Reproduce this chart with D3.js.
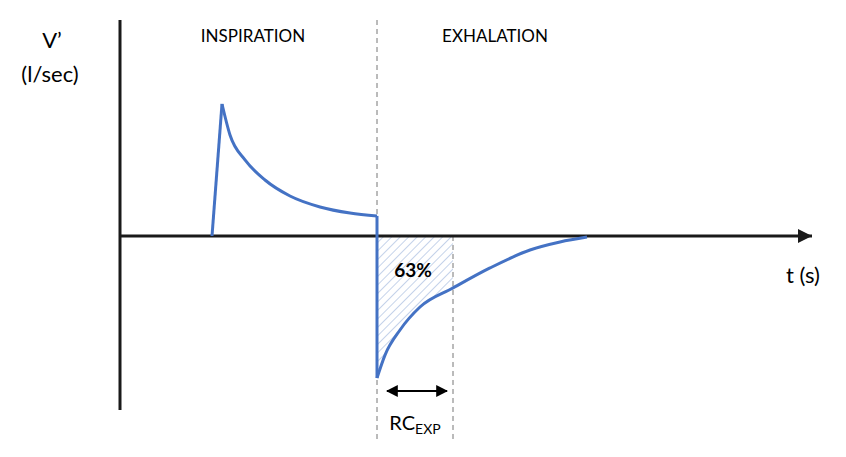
<!DOCTYPE html>
<html><head><meta charset="utf-8">
<script src="https://cdn.jsdelivr.net/npm/d3@7"></script>
<style>body{margin:0;background:#fff}text{font-family:Lato,"Open Sans",sans-serif;fill:#000}</style>
</head><body><div id="chart"></div>
<script>
// flow curve (t in s, flow in l/sec, relative units)
var inspiration = [
  { t: 1.84, v: 0 }, { t: 2.04, v: 1.0 }, { t: 2.2, v: 0.765 }, { t: 2.5, v: 0.576 },
  { t: 2.9, v: 0.424 }, { t: 3.4, v: 0.303 }, { t: 4.0, v: 0.22 }, { t: 4.6, v: 0.174 },
  { t: 5.14, v: 0.152 }
]
var exhalation = [
  { t: 5.14, v: -1.076 }, { t: 5.3, v: -0.902 }, { t: 5.6, v: -0.712 }, { t: 6.0, v: -0.538 },
  { t: 6.66, v: -0.394 }, { t: 7.4, v: -0.242 }, { t: 8.2, v: -0.106 }, { t: 8.8, v: -0.045 },
  { t: 9.34, v: -0.008 }
]
var tSwitch = 5.14, tRC = 6.66
var phaseLabels = ["INSPIRATION", "EXHALATION"]

const width = 846, height = 457
const x = d3.scaleLinear().domain([0, 13.8]).range([120, 810])
const y = d3.scaleLinear().domain([-1.318, 1.636]).range([410, 20])
const y0 = y(0)
const blue = "#4472c4"

var svg = d3.select("#chart").append("svg").attr("width", width).attr("height", height)
var defs = svg.append("defs")
var pat = defs.append("pattern").attr("id", "hatch").attr("patternUnits", "userSpaceOnUse")
  .attr("width", 6).attr("height", 6).attr("patternTransform", "rotate(45)")
pat.append("line").attr("x1", 0).attr("y1", 0).attr("x2", 0).attr("y2", 6)
  .attr("stroke", "#c5d3ea").attr("stroke-width", 2)
defs.append("marker").attr("id", "ah").attr("viewBox", "0 0 10 10").attr("refX", 9).attr("refY", 5)
  .attr("markerWidth", 6).attr("markerHeight", 6).attr("orient", "auto-start-reverse")
  .append("path").attr("d", "M0,0L10,5L0,10z").attr("fill", "#000")

// hatched area (first time constant)
var hatchData = exhalation.filter(d => d.t <= tRC)
svg.append("path").datum(hatchData)
  .attr("fill", "url(#hatch)")
  .attr("d", d3.area().x(d => x(d.t)).y0(y0).y1(d => y(d.v)).curve(d3.curveMonotoneX))

// dashed guides
svg.append("line").attr("x1", x(tSwitch)).attr("x2", x(tSwitch)).attr("y1", 20).attr("y2", 442)
  .attr("stroke", "#777").attr("stroke-dasharray", "5,4").attr("stroke-width", 1)
svg.append("line").attr("x1", x(tRC)).attr("x2", x(tRC)).attr("y1", y0).attr("y2", 442)
  .attr("stroke", "#777").attr("stroke-dasharray", "5,4").attr("stroke-width", 1)

// axes
svg.append("line").attr("x1", x(0)).attr("x2", x(0)).attr("y1", 20).attr("y2", 410)
  .attr("stroke", "#1a1a1a").attr("stroke-width", 3)
svg.append("line").attr("x1", x(0)).attr("x2", 812).attr("y1", y0).attr("y2", y0)
  .attr("stroke", "#1a1a1a").attr("stroke-width", 3)
svg.append("path").attr("d", `M798,${y0-7}L812,${y0}L798,${y0+7}z`).attr("fill", "#1a1a1a")

// flow curve
const line = d3.line().x(d => x(d.t)).y(d => y(d.v)).curve(d3.curveMonotoneX)
var insp = inspiration.slice(1)
svg.append("path").datum([inspiration[0], inspiration[1]]).attr("fill", "none")
  .attr("stroke", blue).attr("stroke-width", 3).attr("d", d3.line().x(d => x(d.t)).y(d => y(d.v)))
svg.append("path").datum(insp).attr("fill", "none").attr("stroke", blue).attr("stroke-width", 3).attr("d", line)
svg.append("path").datum([insp[insp.length - 1], exhalation[0]]).attr("fill", "none")
  .attr("stroke", blue).attr("stroke-width", 3).attr("d", d3.line().x(d => x(d.t)).y(d => y(d.v)))
svg.append("path").datum(exhalation).attr("fill", "none").attr("stroke", blue).attr("stroke-width", 3).attr("d", line)

// labels
svg.append("text").attr("x", 52).attr("y", 48).attr("text-anchor", "middle").attr("font-size", 22).text("V’")
svg.append("text").attr("x", 50).attr("y", 82).attr("text-anchor", "middle").attr("font-size", 22).text("(l/sec)")
svg.append("text").attr("x", 253).attr("y", 42).attr("text-anchor", "middle").attr("font-size", 17).text(phaseLabels[0])
svg.append("text").attr("x", 495).attr("y", 42).attr("text-anchor", "middle").attr("font-size", 17).text(phaseLabels[1])
svg.append("text").attr("x", 803).attr("y", 283).attr("text-anchor", "middle").attr("font-size", 22).text("t (s)")
svg.append("text").attr("x", 413).attr("y", 277).attr("text-anchor", "middle").attr("font-size", 19)
  .attr("font-weight", "bold").text("63%")

// RC arrow
svg.append("line").attr("x1", x(tSwitch) + 10).attr("x2", x(tRC) - 6).attr("y1", 391).attr("y2", 391)
  .attr("stroke", "#000").attr("stroke-width", 2)
  .attr("marker-start", "url(#ah)").attr("marker-end", "url(#ah)")
var rc = svg.append("text").attr("x", (x(tSwitch) + x(tRC)) / 2).attr("y", 430)
  .attr("text-anchor", "middle").attr("font-size", 20)
rc.append("tspan").text("RC")
rc.append("tspan").attr("font-size", 14).attr("dy", 4).text("EXP")
</script></body></html>
